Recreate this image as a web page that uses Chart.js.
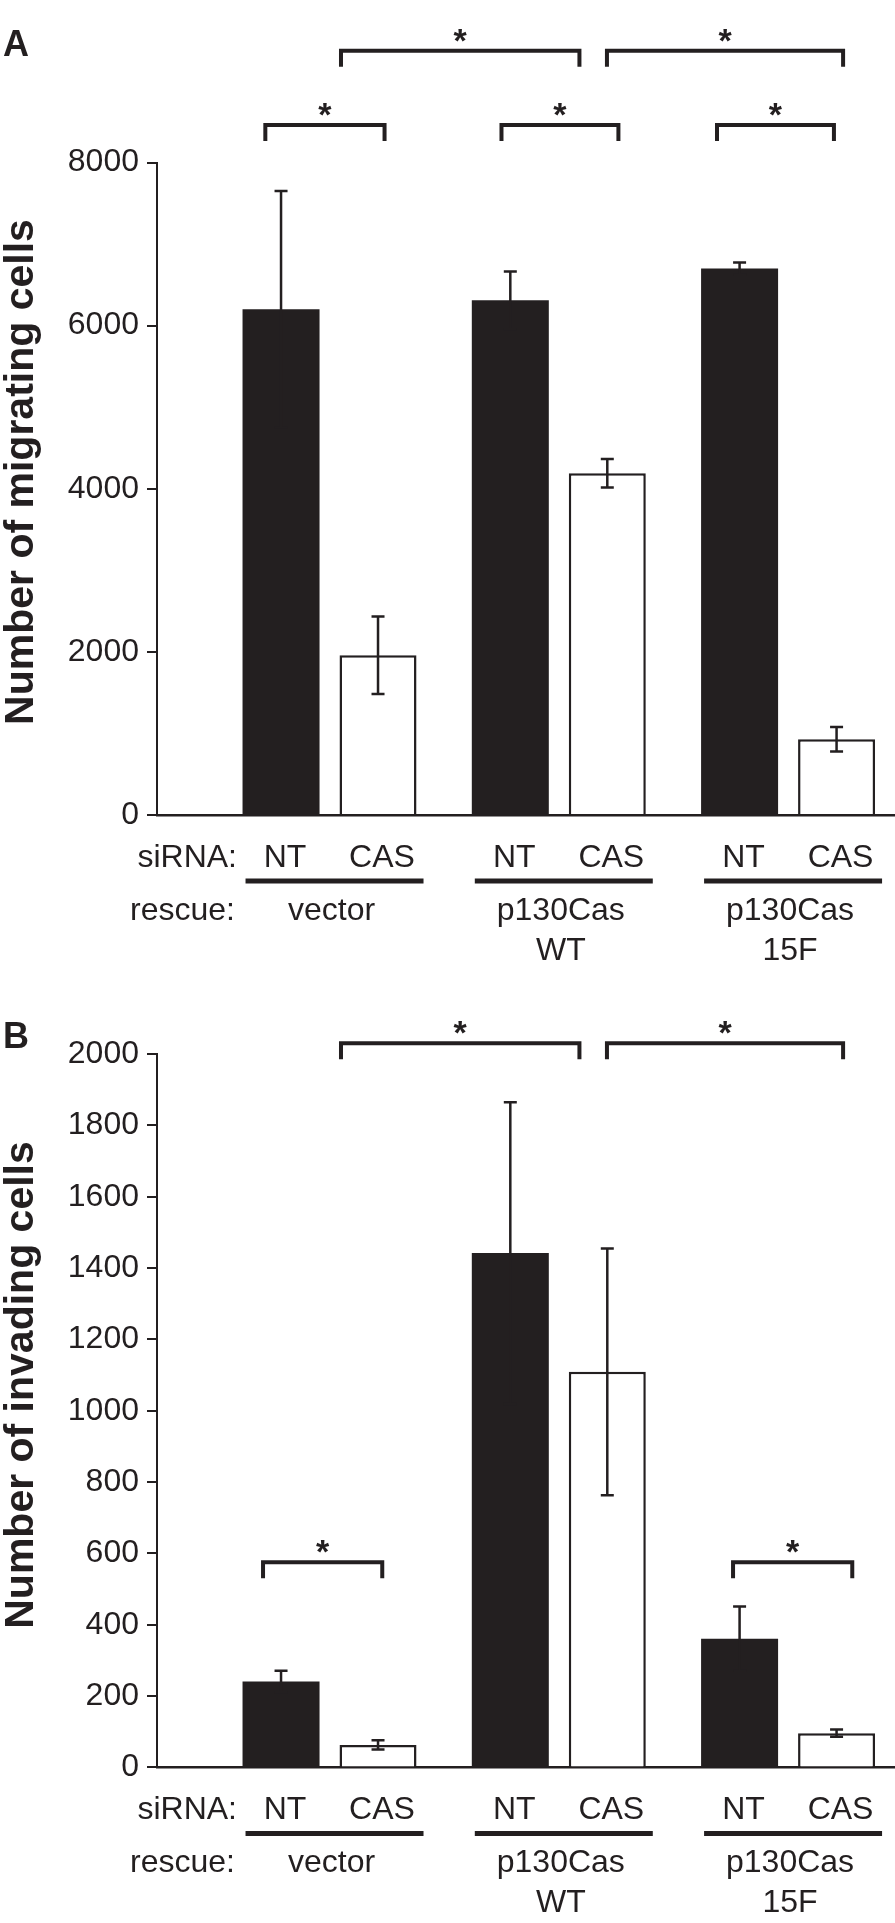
<!DOCTYPE html>
<html>
<head>
<meta charset="utf-8">
<script src="https://cdn.jsdelivr.net/npm/chart.js@4.4.1/dist/chart.umd.min.js"></script>
<style>
  body { margin: 0; background: #fff; }
  canvas { display: block; }
</style>
</head>
<body>
<canvas id="chartA" width="895" height="985"></canvas>
<canvas id="chartB" width="895" height="938"></canvas>
<script>
const groups = [['vector'], ['p130Cas', 'WT'], ['p130Cas', '15F']];
const sirna = ['NT', 'CAS'];

const migrateNT = [6200, 6310, 6700];
const migrateNTErr = [1450, 355, 75];
const migrateCAS = [1960, 4190, 930];
const migrateCASErr = [475, 175, 150];

const invadeNT = [241, 1442, 361];
const invadeNTErr = [30, 423, 90];
const invadeCAS = [63, 1109, 96];
const invadeCASErr = [13, 346, 10];

// significance brackets: [from, to, level], from/to on the group axis (groups sit at 1, 2, 3)
const migrateBrackets = [[0.72, 1.24, 8460], [1.75, 2.26, 8460], [2.69, 3.2, 8460], [1.05, 2.09, 9370], [2.21, 3.24, 9370]];
const invadeBrackets = [[0.71, 1.23, 575], [2.76, 3.28, 575], [1.05, 2.09, 2030], [2.21, 3.24, 2030]];

const ink = '#231f20';
const fam = '"Liberation Sans", Arial, Helvetica, sans-serif';

const annotate = {
    id: 'annotate',
    afterDatasetsDraw(chart, args, opts) {
        const { ctx, chartArea, scales: { x, y } } = chart;
        ctx.save();
        ctx.strokeStyle = ink;
        ctx.fillStyle = ink;
        ctx.lineCap = 'butt';
        ctx.lineJoin = 'miter';

        // error bars
        opts.errors.forEach((errs, d) => {
            const meta = chart.getDatasetMeta(d);
            meta.data.forEach((bar, i) => {
                const v = chart.data.datasets[d].data[i].y;
                const top = y.getPixelForValue(v + errs[i]);
                const bot = y.getPixelForValue(Math.max(v - errs[i], 0));
                ctx.lineWidth = 2.5;
                ctx.beginPath();
                ctx.moveTo(bar.x, top); ctx.lineTo(bar.x, bot);
                ctx.moveTo(bar.x - 6.5, top); ctx.lineTo(bar.x + 6.5, top);
                ctx.moveTo(bar.x - 6.5, bot); ctx.lineTo(bar.x + 6.5, bot);
                ctx.stroke();
            });
        });

        // brackets with stars
        ctx.lineWidth = 4;
        opts.brackets.forEach(([a, b, lvl]) => {
            const x1 = x.getPixelForValue(a), x2 = x.getPixelForValue(b), yy = y.getPixelForValue(lvl);
            ctx.beginPath();
            ctx.moveTo(x1, yy + 16); ctx.lineTo(x1, yy); ctx.lineTo(x2, yy); ctx.lineTo(x2, yy + 16);
            ctx.stroke();
            ctx.font = 'bold 34px ' + fam;
            ctx.textAlign = 'center';
            ctx.textBaseline = 'alphabetic';
            ctx.fillText('*', (x1 + x2) / 2, yy + 1);
        });

        // labels under the axis
        const base = chartArea.bottom;
        const nt = chart.getDatasetMeta(0).data, cas = chart.getDatasetMeta(1).data;
        ctx.font = '32px ' + fam;
        ctx.textAlign = 'right';
        ctx.fillText('siRNA:', chartArea.left + 80, base + 52);
        ctx.fillText('rescue:', chartArea.left + 78, base + 105);
        ctx.textAlign = 'center';
        groups.forEach((g, j) => {
            ctx.fillText(sirna[0], nt[j].x + 4, base + 52);
            ctx.fillText(sirna[1], cas[j].x + 4, base + 52);
            ctx.lineWidth = 5;
            ctx.beginPath();
            ctx.moveTo(nt[j].x - nt[j].width / 2 + 3, base + 66);
            ctx.lineTo(cas[j].x + cas[j].width / 2 + 7, base + 66);
            ctx.stroke();
            const cx = x.getPixelForValue(j + 1) + 2;
            g.forEach((line, k) => ctx.fillText(line, cx, base + 105 + k * 40));
        });

        // y title and panel letter
        ctx.font = 'bold 41px ' + fam;
        ctx.save();
        ctx.translate(21.5, opts.titleY);
        ctx.rotate(-Math.PI / 2);
        ctx.textBaseline = 'middle';
        ctx.fillText(opts.title, 0, 0);
        ctx.restore();
        ctx.font = 'bold 36px ' + fam;
        ctx.textAlign = 'left';
        ctx.fillText(opts.letter, 3, opts.letterY);
        ctx.restore();
    }
};

function makeChart(id, o) {
    return new Chart(document.getElementById(id), {
        type: 'bar',
        data: {
            datasets: [
                { label: sirna[0], data: o.nt.map((v, i) => ({ x: i + 1, y: v })), backgroundColor: ink, borderWidth: 0 },
                { label: sirna[1], data: o.cas.map((v, i) => ({ x: i + 1, y: v })), backgroundColor: '#fff', borderColor: ink, borderWidth: 2.5 }
            ]
        },
        plugins: [annotate],
        options: {
            responsive: false,
            animation: false,
            events: [],
            categoryPercentage: 0.846,
            barPercentage: 0.794,
            layout: { padding: { top: o.padTop, bottom: o.padBottom, left: 0, right: 1 } },
            plugins: {
                legend: { display: false },
                tooltip: { enabled: false },
                annotate: { errors: [o.ntErr, o.casErr], brackets: o.brackets, title: o.title, titleY: o.titleY, letter: o.letter, letterY: o.letterY }
            },
            scales: {
                x: {
                    type: 'linear', min: 0.2475, max: 3.462, z: 1, offset: false,
                    ticks: { display: false, stepSize: 1, includeBounds: false },
                    grid: { display: false, offset: false },
                    border: { display: true, color: ink, width: 2.5 }
                },
                y: {
                    min: 0, max: o.max,
                    ticks: { stepSize: o.step, color: ink, font: { family: fam, size: 32 }, padding: 8, callback: v => String(v) },
                    grid: { display: true, drawOnChartArea: false, drawTicks: true, tickLength: 10, color: ink, lineWidth: 2 },
                    border: { display: true, color: ink, width: 2 },
                    afterFit: s => { s.width = 157; }
                }
            }
        }
    });
}

makeChart('chartA', {
    nt: migrateNT, ntErr: migrateNTErr, cas: migrateCAS, casErr: migrateCASErr,
    brackets: migrateBrackets, max: 8000, step: 2000,
    title: 'Number of migrating cells', titleY: 472, letter: 'A', letterY: 56,
    padTop: 162.5, padBottom: 162
});

makeChart('chartB', {
    nt: invadeNT, ntErr: invadeNTErr, cas: invadeCAS, casErr: invadeCASErr,
    brackets: invadeBrackets, max: 2000, step: 200,
    title: 'Number of invading cells', titleY: 400, letter: 'B', letterY: 63,
    padTop: 69, padBottom: 147.6
});
</script>
</body>
</html>
